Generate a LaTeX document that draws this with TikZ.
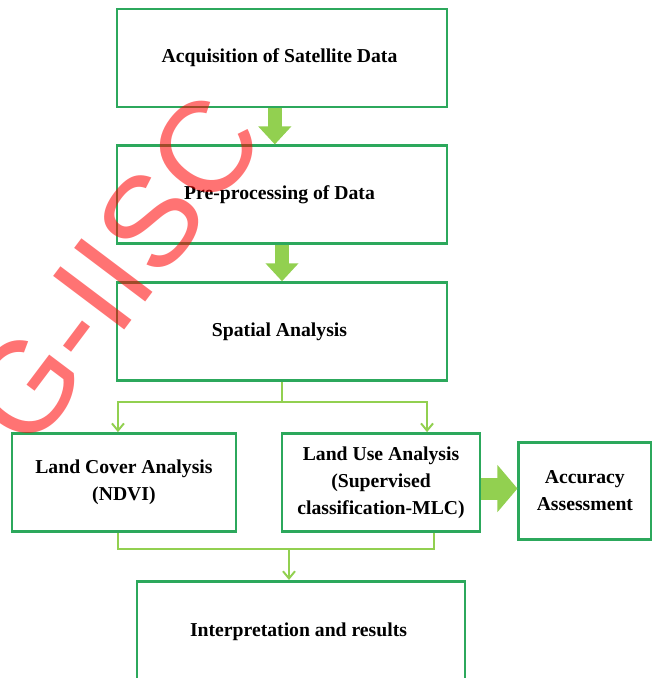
\documentclass[tikz,border=0pt]{standalone}
\usepackage{fontspec}
\setmainfont{Liberation Serif}
\setsansfont{Liberation Sans}
\usetikzlibrary{positioning,arrows.meta}

\definecolor{boxgreen}{RGB}{44,168,92}
\definecolor{arrgreen}{RGB}{146,208,80}

\begin{document}
\begin{tikzpicture}
[
    x = 0.025cm, y = -0.025cm,
    node distance = 0.9cm and 0.9cm,
    stepbox/.style   = {rectangle,
                        draw=boxgreen,
                        line width=2pt,
                        fill=white,
                        align=center,
                        font=\fontsize{14}{19}\selectfont\bfseries},
    mainbox/.style   = {stepbox,
                        minimum width=8.25cm,
                        minimum height=2.45cm},
    blockarr/.style  = {draw=arrgreen,
                        line width=0.35cm,
                        -{Triangle[width=0.8cm,length=0.45cm]}},
    bigarr/.style    = {draw=arrgreen,
                        line width=0.55cm,
                        -{Triangle[width=1.15cm,length=0.5cm]}},
    link/.style      = {draw=arrgreen,
                        line width=1.4pt},
    linkarr/.style   = {link,
                        -{Straight Barb[length=1.8mm,width=3mm]}},
    watermark/.style = {text=red,
                        text opacity=0.55,
                        rotate=53,
                        font=\fontsize{92}{92}\selectfont\sffamily}
]

\useasboundingbox (0,0) rectangle (652,678);

\node (acq) [mainbox] at (282,58) {
Acquisition of Satellite Data
};

\node (pre) [mainbox, below=of acq] {
Pre-processing of Data
};

\node (spa) [mainbox, below=of pre] {
Spatial Analysis
};

\node (cover) [stepbox, minimum width=5.6cm, minimum height=2.45cm,
               below=1.25cm of spa, xshift=-3.95cm] {
Land Cover Analysis\\(NDVI)
};

\node (use) [stepbox, minimum width=4.95cm, minimum height=2.45cm,
             below=1.25cm of spa, xshift=2.475cm] {
Land Use Analysis\\(Supervised\\classification-MLC)
};

\node (acc) [stepbox, minimum width=3.3cm, minimum height=2.425cm,
             right=of use, yshift=-0.21cm] {
Accuracy\\Assessment
};

\node (res) [stepbox, minimum width=8.2cm, minimum height=2.5cm,
             below=1.175cm of use, xshift=-2cm] {
Interpretation and results
};

% block arrows
\draw[blockarr] ([xshift=-0.18cm]acq.south) -- ([xshift=-0.18cm]pre.north);
\draw[blockarr] (pre.south) -- (spa.north);
\draw[bigarr] ([yshift=-0.15cm]use.east) -- ([yshift=-0.15cm]use.east -| acc.west);

% split
\coordinate (fork) at ([yshift=-0.5cm]spa.south);
\coordinate (usein) at ([xshift=1.15cm]use.north);
\draw[link] (spa.south) -- (fork);
\draw[linkarr] (fork) -| ([xshift=-0.15cm]cover.north);
\draw[linkarr] (fork) -| (usein);

% merge
\coordinate (coverout) at ([xshift=-0.15cm]cover.south);
\coordinate (useout) at ([xshift=1.325cm]use.south);
\coordinate (resin) at ([xshift=-0.3cm]res.north);
\coordinate (merge) at ([yshift=-0.4cm]coverout -| resin);
\draw[link] (coverout) -- ++(0,-0.4cm) -| (useout);
\draw[linkarr] (merge) -- (resin);

\node (mark) [watermark] at (114,270) {G-IISC};

\end{tikzpicture}
\end{document}
